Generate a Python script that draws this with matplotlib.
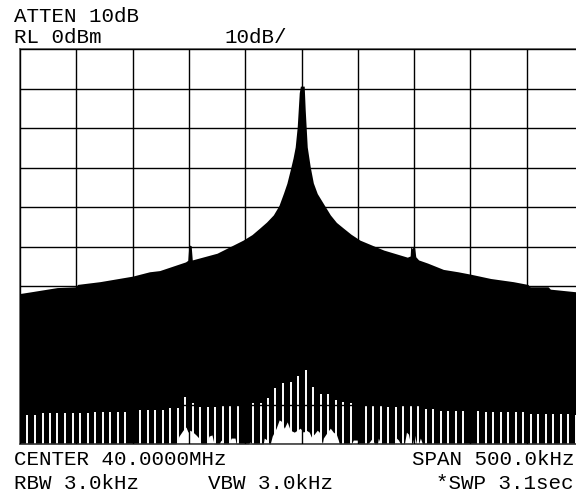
import numpy as np
import matplotlib.pyplot as plt

# trace envelope: offset from 40 MHz (kHz) and level (dBm)
env_khz = [-250, -241, -217, -200, -199, -179, -150, -135, -126, -103, -101, -100,
           -98, -97, -75, -52, -44, -37, -31, -25, -20, -16, -13, -10, -7.5, -5.6,
           -3.8, -2, -1, 2.4, 3.3, 5.1, 7.8, 10.5, 14, 18.5, 25.6, 31, 37, 44, 52,
           73, 94, 96.5, 97, 98.5, 99, 100.5, 101.5, 104, 112, 126, 139, 150, 168,
           188, 201, 203, 219, 221, 245, 251]
env_dbm = [-61.9, -61.5, -60.4, -60.2, -59.6, -58.9, -57.5, -56.4, -56.1, -53.9,
           -53.5, -49.6, -49.8, -53.4, -51.7, -48.4, -47.0, -45.3, -43.8, -42.0,
           -39.6, -36.5, -34.0, -30.6, -27.6, -24.8, -19.7, -11.1, -9.4, -9.4,
           -15.4, -24.8, -29.9, -33.9, -36.6, -38.7, -42.0, -43.9, -45.3, -46.9,
           -48.4, -50.9, -52.7, -52.4, -49.9, -50.6, -49.9, -50.4, -52.6, -53.4,
           -54.2, -55.8, -56.4, -57.0, -58.1, -58.9, -59.6, -60.2, -60.2, -60.8,
           -61.5, -61.7]

# white holes at the bottom of the trace
floor_khz = [-250, -111.4, -108.8, -105.2, -102.6, -100.8, -99.0, -96.4, -93.7, -91.1,
             -89.3, -84.0, -82.2, -79.5, -77.7, -73.2, -71.5, -69.7, -64.3, -62.5,
             -59.0, -58.1, -47.4, -45.6, -43.8, -34.0, -33.1, -30.5, -28.7, -27.8,
             -26.0, -22.5, -19.8, -18.0, -15.3, -12.7, -10.0, -6.4, -3.8, -1.1, 1.6,
             4.2, 6.9, 8.7, 11.3, 14.0, 15.8, 18.5, 19.4, 22.9, 25.6, 28.2, 30.9,
             32.7, 33.6, 44.3, 46.0, 49.6, 50.5, 58.5, 60.3, 62.9, 64.7, 67.4, 68.3,
             70.1, 82.5, 84.3, 86.1, 87.9, 91.4, 93.2, 95.0, 96.8, 98.5, 100.3,
             102.1, 103.9, 105.6, 107.4, 250]
floor_dbm = [-100, -100, -98.0, -96.5, -95.7, -97.0, -96.5, -97.0, -97.7, -98.5,
             -100, -100, -98.0, -97.7, -100, -100, -99.0, -100, -100, -98.5,
             -98.5, -100, -100, -99.5, -100, -100, -98.5, -99.0, -100, -100,
             -98.0, -96.0, -93.9, -94.2, -96.0, -94.4, -96.5, -97.0, -96.5, -96.0, -97.0,
             -96.5, -97.0, -98.2, -97.5, -96.5, -97.0, -100, -98.5, -97.0, -96.0, -97.0, -97.5,
             -99.0, -100, -100, -99.0, -99.0, -100, -100, -99.5, -98.5, -100, -100, -98.5,
             -100, -100, -98.5, -99.0, -100, -100, -97.0, -97.5, -100, -100, -97.7,
             -100, -100, -98.5, -100, -100]

# comb of narrow white gaps
gap_khz = [-243.4, -236.6, -230.0, -223.3, -216.7, -209.9, -203.3, -196.6, -190.0,
           -183.2, -176.6, -169.9, -163.3, -156.5, -143.2, -136.6, -129.9, -123.3,
           -116.5, -109.9, -103.2, -96.6, -89.8, -83.2, -76.5, -69.9, -63.1, -56.5,
           -43.2, -36.4, -29.8, -23.1, -16.5, -9.7, -3.2, 3.6, 10.2, 16.9, 23.5,
           30.3, 36.9, 43.6, 57.0, 63.6, 70.3, 76.9, 83.7, 90.3, 97.0, 103.6, 110.4,
           117.0, 123.7, 130.3, 137.1, 143.6, 157.0, 163.7, 170.3, 177.1, 183.7,
           190.4, 197.0, 203.8, 210.4, 217.1, 223.7, 230.5, 237.1, 243.8]
gap_dbm = [-92.7, -92.7, -92.2, -92.2, -92.2, -92.2, -92.2, -92.2, -92.2,
           -91.8, -91.8, -91.8, -91.8, -91.8, -91.4, -91.4, -91.4, -91.4,
           -91.0, -91.0, -88.0, -89.6, -90.6, -90.6, -90.6, -90.3, -90.3, -90.3,
           -89.6, -89.6, -88.4, -85.7, -84.6, -84.2, -82.8, -81.3, -85.5, -87.4, -87.4,
           -88.9, -89.3, -89.7, -90.3, -90.3, -90.3, -90.7, -90.7, -90.3, -90.3, -90.3, -91.2,
           -91.2, -91.6, -91.6, -91.6, -91.6, -91.6, -92.0, -92.0, -92.0, -92.0,
           -92.0, -92.0, -92.3, -92.3, -92.3, -92.3, -92.3, -92.3, -92.7]

W, H = 576, 496
fig = plt.figure(figsize=(W / 100, H / 100), dpi=100)
fig.patch.set_facecolor('white')

# graticule: 20..583 px wide, 49..444 px high (right edge runs off the screen)
ax = fig.add_axes([20 / W, (H - 444) / H, 563 / W, 395 / H])
ax.set_xlim(-250, 250)
ax.set_ylim(-100, 0)

ax.fill_between(env_khz, -100, env_dbm, color='black', lw=0, zorder=1)
ax.fill_between(floor_khz, -100, floor_dbm, color='white', lw=0, zorder=1.5)
ax.vlines(gap_khz, -100, gap_dbm, color='white', lw=1.4, zorder=2)

ax.set_xticks(np.arange(-250, 251, 50))
ax.set_yticks(np.arange(-100, 1, 10))
ax.tick_params(length=0, labelbottom=False, labelleft=False)
ax.set_axisbelow(False)
ax.grid(True, color='black', lw=1.0)
for s in ax.spines.values():
    s.set_color('#404040')
    s.set_linewidth(1.1)

font = dict(family='Liberation Mono', fontsize=15, color='black', va='baseline')
fig.text(14 / W, 1 - 22 / H, 'ATTEN 10dB', **font)
fig.text(14 / W, 1 - 43 / H, 'RL 0dBm', **font)
fig.text(224 / W, 1 - 43 / H, '10dB/', **font)
fig.text(14 / W, 1 - 465 / H, 'CENTER 40.0000MHz', **font)
fig.text(575 / W, 1 - 465 / H, 'SPAN 500.0kHz', ha='right', **font)
fig.text(14 / W, 1 - 489 / H, 'RBW 3.0kHz', **font)
fig.text(208 / W, 1 - 489 / H, 'VBW 3.0kHz', **font)
fig.text(574 / W, 1 - 489 / H, '*SWP 3.1sec', ha='right', **font)

fig.savefig('out.png', dpi=100)
